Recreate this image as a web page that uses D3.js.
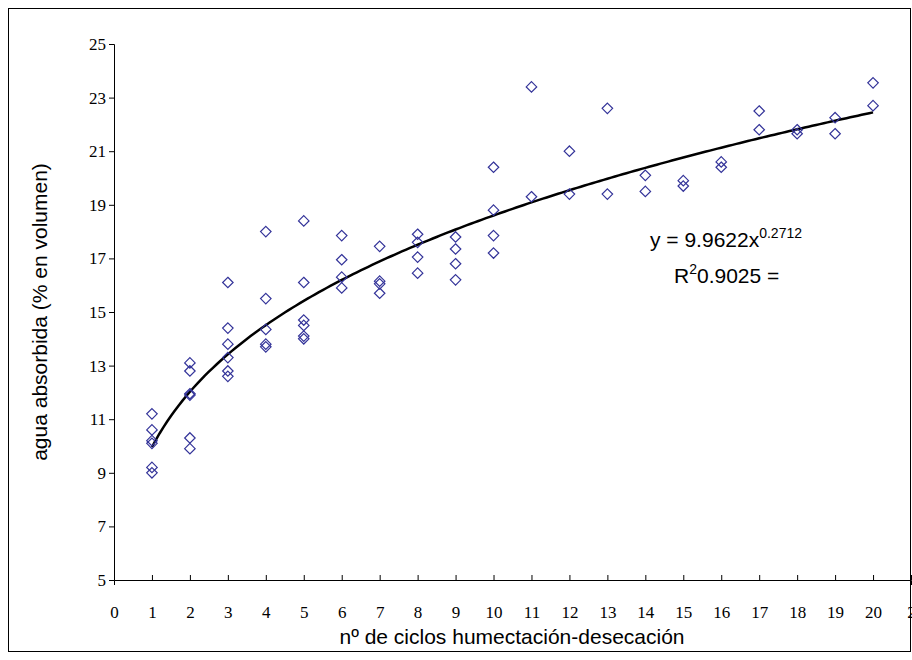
<!DOCTYPE html><html><head><meta charset="utf-8"><script src="https://cdn.jsdelivr.net/npm/d3@7"></script>
<style>body{margin:0;background:#fff}</style></head><body><svg id="c" width="912" height="660"></svg><script>
const xs=[1,1,1,1,1,1,2,2,2,2,2,2,3,3,3,3,3,3,4,4,4,4,4,5,5,5,5,5,5,6,6,6,6,7,7,7,7,8,8,8,8,9,9,9,9,10,10,10,10,11,11,12,12,13,13,14,14,15,15,16,16,17,17,18,18,19,19,20,20];
const ys=[11.2,10.6,10.2,10.1,9.2,9.0,13.1,12.8,11.9,11.95,10.3,9.9,16.1,14.4,13.8,13.3,12.8,12.6,18.0,15.5,14.35,13.8,13.7,18.4,16.1,14.7,14.5,14.1,14.0,17.85,16.95,16.3,15.9,17.45,16.15,16.05,15.7,17.9,17.6,17.05,16.45,17.8,17.35,16.8,16.2,20.4,18.8,17.85,17.2,23.4,19.3,21.0,19.4,22.6,19.4,20.1,19.5,19.9,19.7,20.6,20.4,22.5,21.8,21.8,21.65,22.25,21.65,23.55,22.7];
const xTicks=d3.range(0,22), yTicks=[5,7,9,11,13,15,17,19,21,23,25];
const coefA=9.9622, coefB=0.2712;
const svg=d3.select("#c");
svg.append("rect").attr("x",8.5).attr("y",8.5).attr("width",902).attr("height",643).attr("fill","#fff").attr("stroke","#000");
const x=d3.scaleLinear().domain([0,21]).range([114,911]);
const y=d3.scaleLinear().domain([5,25]).range([580,44]);
const F="'Times New Roman','Liberation Serif',serif";
const gy=svg.append("g").attr("transform","translate(114,0)").call(d3.axisLeft(y).tickValues(yTicks).tickSize(5).tickFormat(d3.format("d")));
const gx=svg.append("g").attr("transform","translate(0,580)").call(d3.axisBottom(x).tickValues(xTicks).tickSize(5).tickFormat(d=>d===21?"2":d));
[gx,gy].forEach(g=>{g.select(".domain").attr("stroke","#000");g.selectAll("line").attr("stroke","#000");g.selectAll("text").attr("font-family",F).attr("font-size",17).attr("fill","#000");});
gx.selectAll("text").attr("dy","1.75em");
gx.selectAll(".tick line").attr("transform","translate(0,-5)").attr("y2",5);
const line=d3.line().x(d=>x(d)).y(d=>y(coefA*Math.pow(d,coefB)));
svg.append("path").datum(d3.range(1,20.001,0.1)).attr("d",line).attr("fill","none").attr("stroke","#000").attr("stroke-width",2.5);
const sym=d3.symbol().type(d3.symbolDiamond2).size(70);
svg.selectAll(".p").data(xs.map((v,i)=>[v,ys[i]])).enter().append("path").attr("d",sym).attr("transform",d=>`translate(${x(d[0])},${y(d[1])})`).attr("fill","none").attr("stroke","#333399").attr("stroke-width",1.2);
const t=svg.append("text").attr("x",650).attr("y",247).attr("font-family","Arial,'Liberation Sans'").attr("font-size",21);
t.append("tspan").text("y = 9.9622x");t.append("tspan").attr("dy",-9).attr("font-size",14).text("0.2712");
const t2=svg.append("text").attr("x",674).attr("y",283).attr("font-family","Arial,'Liberation Sans'").attr("font-size",21);
t2.append("tspan").text("R");t2.append("tspan").attr("dy",-9).attr("font-size",14).text("2");t2.append("tspan").attr("dy",9).text("0.9025 =");
svg.append("text").attr("x",512).attr("y",644).attr("text-anchor","middle").attr("font-family","Arial,'Liberation Sans'").attr("font-size",21).text("nº de ciclos humectación-desecación");
svg.append("text").attr("transform","translate(47,312) rotate(-90)").attr("text-anchor","middle").attr("font-family","Arial,'Liberation Sans'").attr("font-size",21).text("agua absorbida (% en volumen)");
</script></body></html>
